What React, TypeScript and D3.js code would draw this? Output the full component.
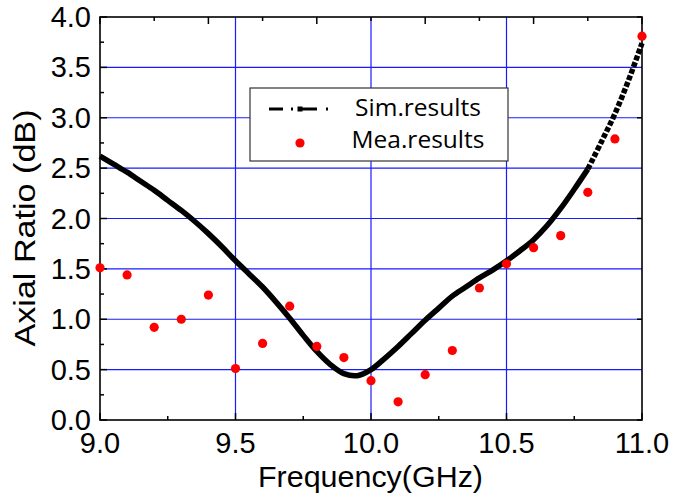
import React from 'react';
import * as d3 from 'd3';

// Simulated axial ratio (dB) vs frequency (GHz)
const simFreq = [9.0, 9.05, 9.1, 9.15, 9.2, 9.25, 9.3, 9.35, 9.4, 9.45, 9.5, 9.55, 9.6, 9.65, 9.7, 9.75, 9.8, 9.85, 9.9, 9.95, 10.0, 10.05, 10.1, 10.15, 10.2, 10.25, 10.3, 10.35, 10.4, 10.45, 10.5, 10.55, 10.6, 10.65, 10.7, 10.75, 10.8, 10.85, 10.9, 10.95, 11.0];
const simAR = [2.62, 2.54, 2.46, 2.37, 2.28, 2.18, 2.08, 1.97, 1.85, 1.72, 1.58, 1.45, 1.32, 1.17, 1.01, 0.84, 0.68, 0.55, 0.46, 0.44, 0.5, 0.61, 0.73, 0.86, 0.99, 1.11, 1.23, 1.32, 1.41, 1.49, 1.58, 1.68, 1.79, 1.93, 2.1, 2.29, 2.49, 2.76, 3.04, 3.37, 3.74];

// Measured axial ratio
const meaFreq = [9.0, 9.1, 9.2, 9.3, 9.4, 9.5, 9.6, 9.7, 9.8, 9.9, 10.0, 10.1, 10.2, 10.3, 10.4, 10.5, 10.6, 10.7, 10.8, 10.9, 11.0];
const meaAR = [1.51, 1.44, 0.92, 1.0, 1.24, 0.51, 0.76, 1.13, 0.73, 0.62, 0.39, 0.18, 0.45, 0.69, 1.31, 1.55, 1.71, 1.83, 2.26, 2.79, 3.81];

const xMajorTicks = [9.0, 9.5, 10.0, 10.5, 11.0];
const xMinorTicks = [9.25, 9.75, 10.25, 10.75];
const xTopMajorTicks = [9.0, 9.4, 9.8, 10.2, 10.6, 11.0];
const xTopMinorTicks = [9.2, 9.6, 10.0, 10.4, 10.8];
const yMajorTicks = [0.0, 0.5, 1.0, 1.5, 2.0, 2.5, 3.0, 3.5, 4.0];
const yMinorTicks = [0.25, 0.75, 1.25, 1.75, 2.25, 2.75, 3.25, 3.75];
const yRightTicks = [0, 1, 2, 3, 4];
const xGrid = [9.5, 10.0, 10.5];
const yGrid = [0.5, 1.0, 1.5, 2.0, 2.5, 3.0, 3.5];

const legendLabels = ['Sim.results', 'Mea.results'];
const xTitle = 'Frequency(GHz)';
const yTitle = 'Axial Ratio (dB)';

export default function App() {
  const W = 691, H = 500;
  const x = d3.scaleLinear().domain([9, 11]).range([100, 642]);
  const y = d3.scaleLinear().domain([0, 4]).range([420, 17]);
  const fmt = d3.format('.1f');
  const simData = simFreq.map((f, i) => [f, simAR[i]] as [number, number]);
  const solidPart = simData.filter(d => d[0] <= 10.8);
  const steepPart = simData.filter(d => d[0] >= 10.8);
  const line = d3.line<[number, number]>().x(d => x(d[0])).y(d => y(d[1])).curve(d3.curveCatmullRom.alpha(0.5));
  const axisFont = '"Liberation Sans", Arial, sans-serif';
  const [x0, x1] = x.range();
  const [y0, y1] = y.range();
  const blue = '#1a1aff';

  return (
    <svg width={W} height={H} style={{ position: 'absolute', left: 0, top: 0, background: '#fff' }}>
      <rect x={0} y={0} width={W} height={H} fill="#fff" />
      {/* grid */}
      {xGrid.map(v => (
        <line key={'gx' + v} x1={x(v)} x2={x(v)} y1={y1} y2={y0} stroke={blue} strokeWidth={1.2} />
      ))}
      {yGrid.map(v => (
        <line key={'gy' + v} x1={x0} x2={x1} y1={y(v)} y2={y(v)} stroke={blue} strokeWidth={1.2} />
      ))}
      {/* ticks */}
      {xMajorTicks.map(v => (
        <line key={'xM' + v} x1={x(v)} x2={x(v)} y1={y0} y2={y0 - 7} stroke="#000" strokeWidth={1.5} />
      ))}
      {xMinorTicks.map(v => (
        <line key={'xm' + v} x1={x(v)} x2={x(v)} y1={y0} y2={y0 - 4} stroke="#000" strokeWidth={1.5} />
      ))}
      {xTopMajorTicks.map(v => (
        <line key={'xtM' + v} x1={x(v)} x2={x(v)} y1={y1} y2={y1 + 7} stroke="#000" strokeWidth={1.5} />
      ))}
      {xTopMinorTicks.map(v => (
        <line key={'xtm' + v} x1={x(v)} x2={x(v)} y1={y1} y2={y1 + 4} stroke="#000" strokeWidth={1.5} />
      ))}
      {yMajorTicks.map(v => (
        <line key={'yM' + v} x1={x0} x2={x0 + 7} y1={y(v)} y2={y(v)} stroke="#000" strokeWidth={1.5} />
      ))}
      {yMinorTicks.map(v => (
        <line key={'ym' + v} x1={x0} x2={x0 + 4} y1={y(v)} y2={y(v)} stroke="#000" strokeWidth={1.5} />
      ))}
      {yRightTicks.map(v => (
        <line key={'yr' + v} x1={x1} x2={x1 - 5} y1={y(v)} y2={y(v)} stroke="#000" strokeWidth={1.5} />
      ))}
      {/* frame */}
      <rect x={x0} y={y1} width={x1 - x0} height={y0 - y1} fill="none" stroke="#000" strokeWidth={1.6} />
      {/* sim curve */}
      <path d={line(solidPart) || ''} fill="none" stroke="#000" strokeWidth={5.5} strokeLinejoin="round" />
      <path d={line(steepPart) || ''} fill="none" stroke="#000" strokeWidth={5.5} strokeDasharray="5,2" />
      {/* measured */}
      {meaFreq.map((f, i) => (
        <circle key={'m' + i} cx={x(f)} cy={y(meaAR[i])} r={4.6} fill="#ff0000" />
      ))}
      {/* tick labels */}
      {xMajorTicks.map(v => (
        <text key={'xl' + v} x={x(v)} y={453} textAnchor="middle" fontFamily={axisFont} fontSize={29} fill="#000">{fmt(v)}</text>
      ))}
      {yMajorTicks.map(v => (
        <text key={'yl' + v} x={91} y={y(v) + 10} textAnchor="end" fontFamily={axisFont} fontSize={29} fill="#000">{fmt(v)}</text>
      ))}
      {/* axis titles */}
      <text x={370.5} y={487} textAnchor="middle" fontFamily={axisFont} fontSize={29} textLength={225} lengthAdjust="spacingAndGlyphs" fill="#000">{xTitle}</text>
      <text transform="translate(35,228) rotate(-90)" textAnchor="middle" fontFamily={axisFont} fontSize={29} textLength={237} lengthAdjust="spacingAndGlyphs" fill="#000">{yTitle}</text>
      {/* legend */}
      <g>
        <rect x={250} y={88} width={258} height={73} fill="#fff" stroke="#333" strokeWidth={1.2} />
        <line x1={269} x2={330} y1={109} y2={109} stroke="#000" strokeWidth={3} strokeDasharray="14,8,2,6,18,9,2,100" />
        <rect x={297.5} y={106.5} width={5} height={5} fill="#000" />
        <circle cx={300} cy={143} r={4.6} fill="#ff0000" />
        <text x={418} y={116} textAnchor="middle" fontFamily='"Open Sans", sans-serif' fontSize={24.5} fill="#000">{legendLabels[0]}</text>
        <text x={418} y={148} textAnchor="middle" fontFamily='"Open Sans", sans-serif' fontSize={24.5} fill="#000">{legendLabels[1]}</text>
      </g>
    </svg>
  );
}
